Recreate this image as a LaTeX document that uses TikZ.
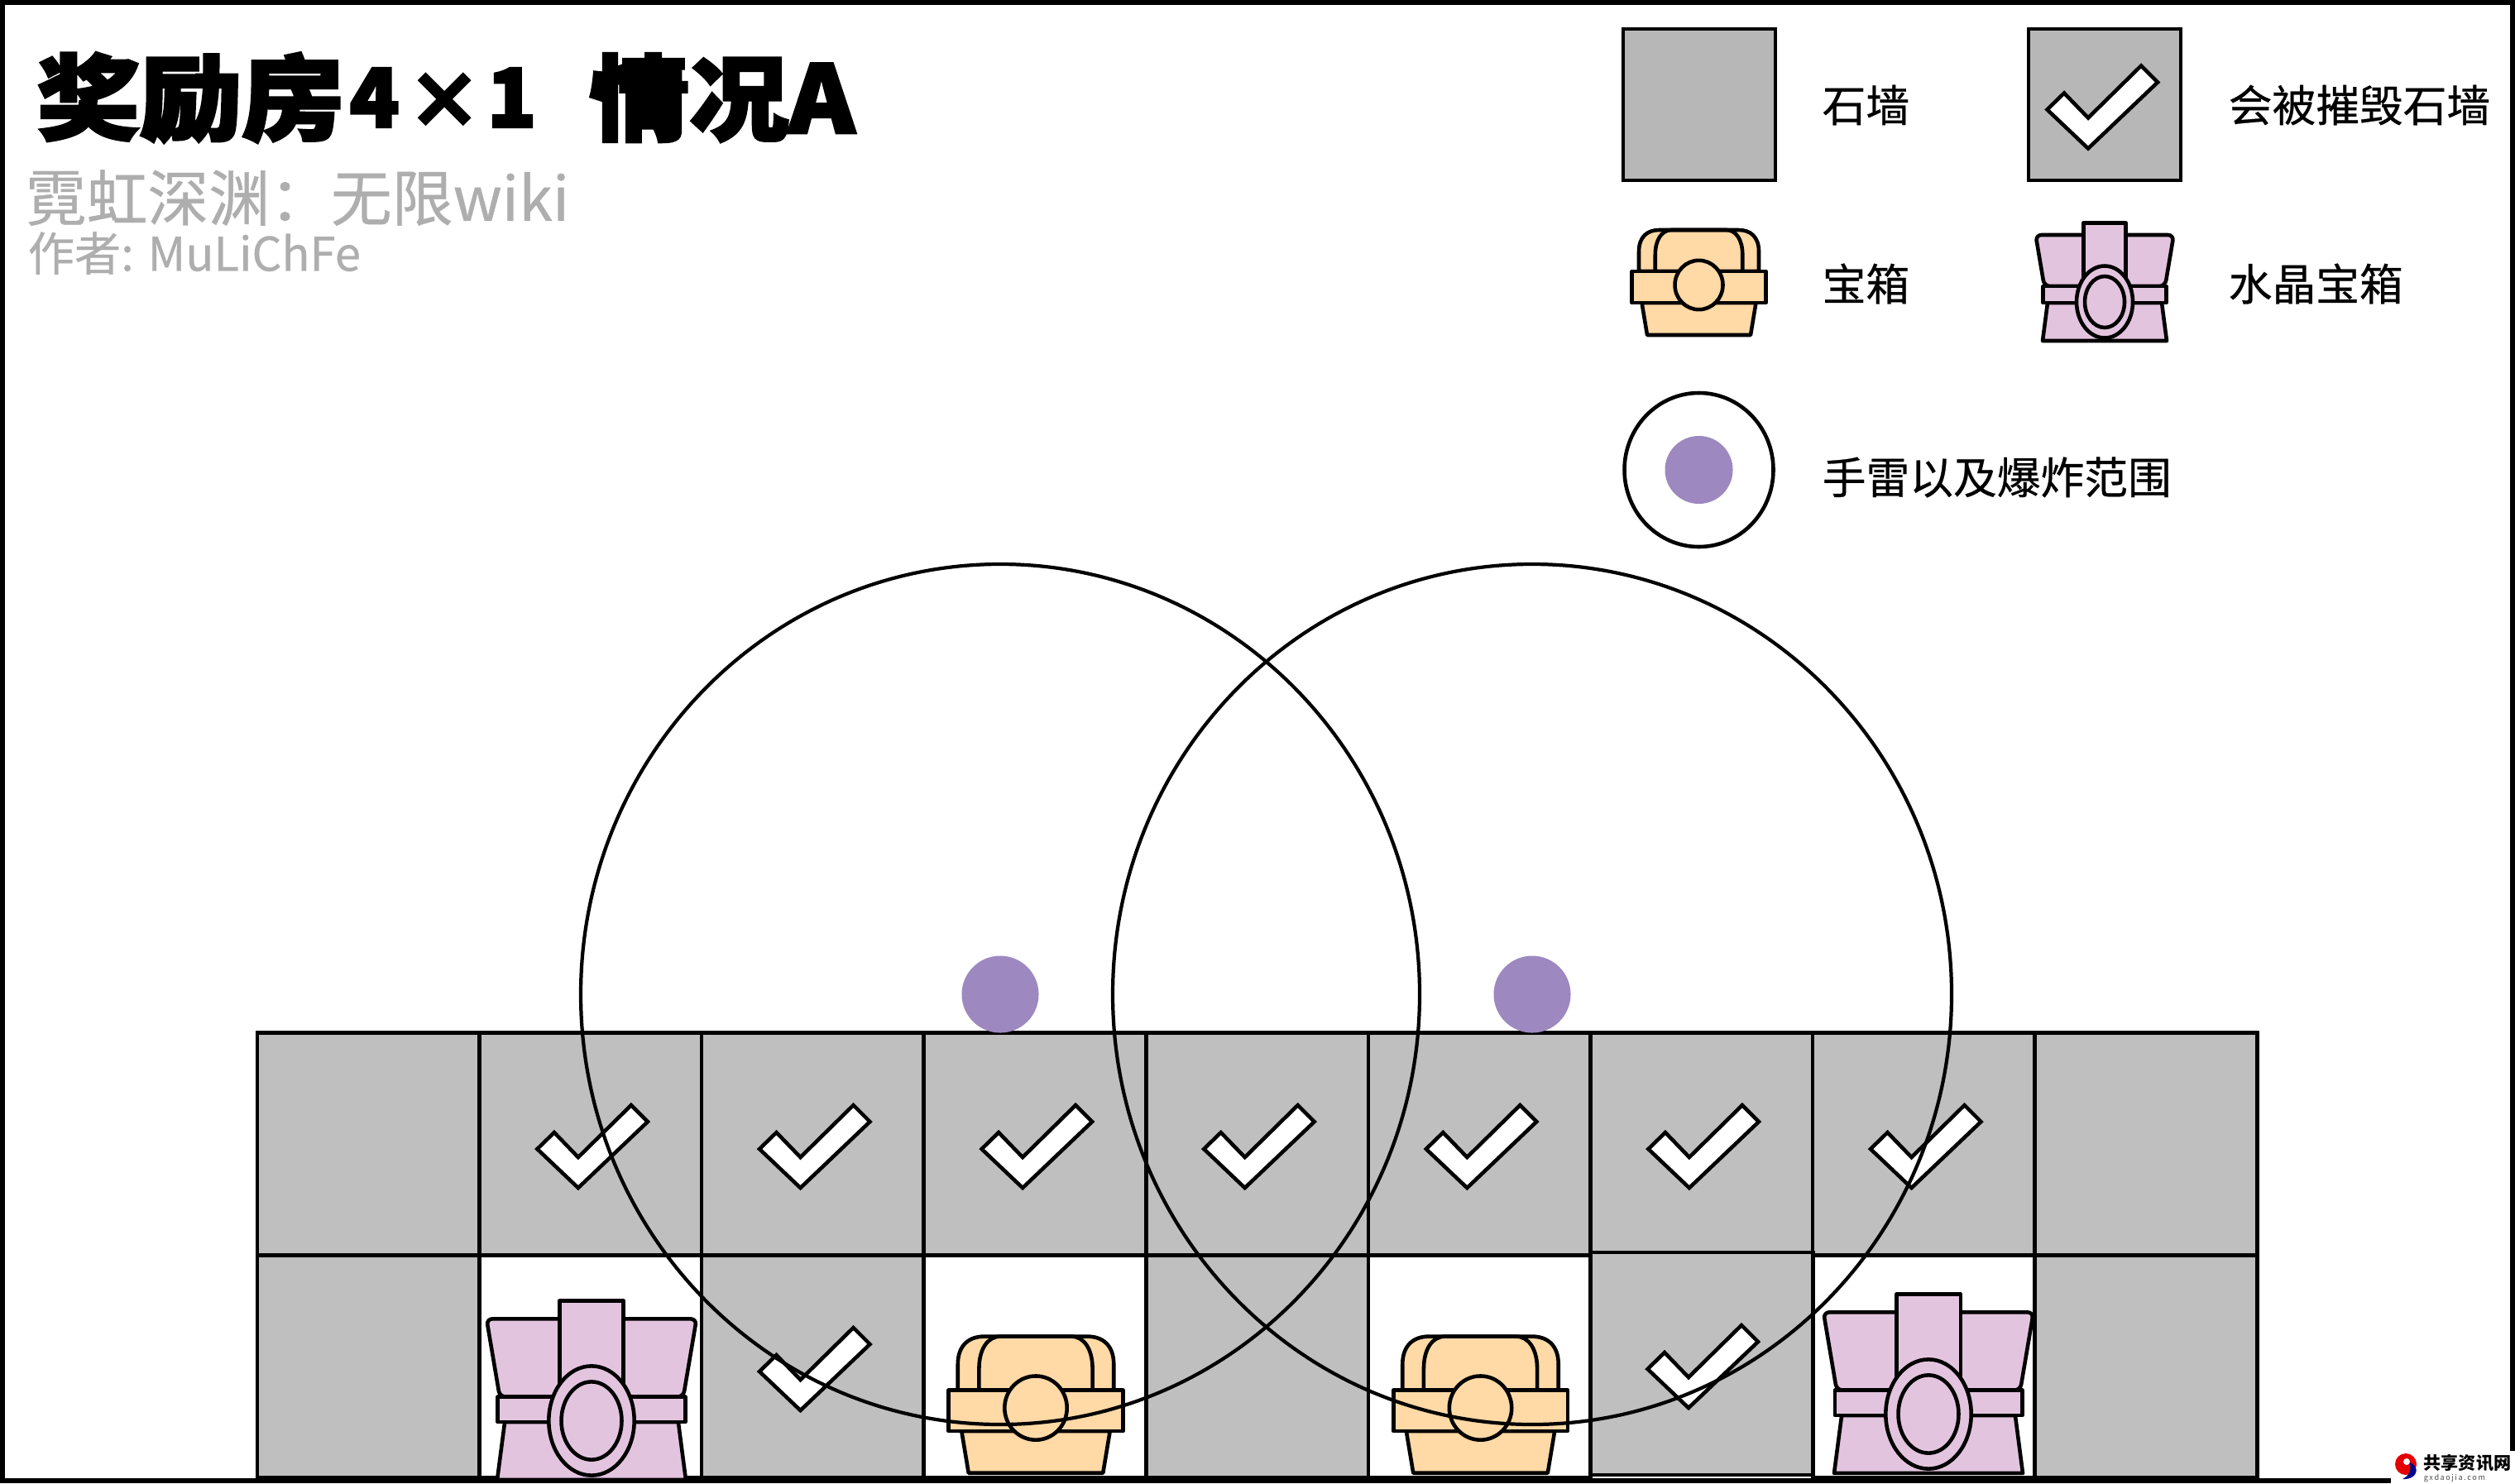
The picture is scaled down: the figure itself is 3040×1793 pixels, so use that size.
\documentclass[tikz,border=0pt]{standalone}
\usepackage{fontspec}
\setmainfont{Noto Sans CJK SC}
\newfontfamily\titlefont[BoldFeatures={FakeBold=3}]{Noto Sans CJK SC}
\newfontfamily\labelfont[FakeBold=0.5]{Noto Sans CJK SC}
\usepackage{xcolor}
\definecolor{wallgray}{HTML}{BFBFBF}
\definecolor{keygray}{HTML}{B7B7B7}
\definecolor{chestfill}{HTML}{FFD9A6}
\definecolor{crystalfill}{HTML}{E3C4DE}
\definecolor{grenade}{HTML}{9D88BF}
\definecolor{subgray}{HTML}{AEAEAE}
\usetikzlibrary{calc,positioning}
\def \cell {2.686cm}
\tikzset{
    wall/.style={
    rectangle,draw=black,fill=wallgray,line width=1.3pt,minimum width=\cell,minimum height=2.69cm,inner sep=0pt
    },
    hole/.style={
    wall,fill=white
    },
    keybox/.style={
    rectangle,draw=black,fill=keygray,line width=1.3pt,minimum width=1.84cm,minimum height=1.83cm,inner sep=0pt
    },
    bomb/.style={
    circle,fill=grenade,minimum size=0.93cm,inner sep=0pt
    },
    legend/.style={
    anchor=west,inner sep=0pt,font=\labelfont\fontsize{15}{15}\selectfont
    },
    heading/.style={
    anchor=west,inner sep=0pt,font=\titlefont\bfseries\fontsize{32}{32}\selectfont
    },
    outline/.style={draw=black,line width=1.3pt,line join=round},
    wallcheck/.pic={
      \draw[draw=black,fill=white,line width=1.3pt,line join=miter]
        (49,-47) -- (69,-27) -- (-15,53) -- (-64.5,6) -- (-44,-14) -- (-15,16) -- cycle;
    },
    chest/.pic={
      % origin is the lower edge of the band
      \draw[outline,fill=chestfill] (-69,0) -- (-62.5,39) -- (62.5,39) -- (69,0) -- cycle;
      \draw[outline,fill=chestfill] (-72.5,-38) -- (-72.5,-62) .. controls (-72.5,-80) and (-62,-88) .. (-48,-88)
        -- (48,-88) .. controls (62,-88) and (72.5,-80) .. (72.5,-62) -- (72.5,-38) -- cycle;
      \draw[outline] (-52.75,-38) -- (-52.75,-58) .. controls (-52.75,-76) and (-45,-88) .. (-33,-88)
        -- (33,-88) .. controls (45,-88) and (52.75,-76) .. (52.75,-58) -- (52.75,-38);
      \draw[outline,fill=chestfill] (-81,-38) rectangle (81,0);
      \draw[outline,fill=chestfill] (0,-21.5) ellipse [x radius=29,y radius=29.7];
    },
    crystal/.pic={
      % origin is the lower edge of the band
      \draw[outline,fill=crystalfill] (-69,0) -- (-75,46) -- (75,46) -- (69,0) -- cycle;
      \draw[outline,fill=crystalfill,rounded corners=2pt] (-83.5,-82) -- (-73,-20) -- (73,-20) -- (83.5,-82) -- cycle;
      \draw[outline,fill=crystalfill] (-25.5,-20) -- (-25.5,-96.4) -- (25.5,-96.4) -- (25.5,-20) -- cycle;
      \draw[outline,fill=crystalfill] (-74.5,-20) rectangle (74.5,0);
      \draw[outline,fill=crystalfill] (0,-1) ellipse [x radius=34,y radius=43.5];
      \draw[outline,fill=crystalfill] (0,-1) ellipse [x radius=24,y radius=31];
    },
}

\begin{document}
\begin{tikzpicture}[x=0.01cm,y=-0.01cm]
\useasboundingbox (0,0) rectangle (3040,1793);
\draw[line width=1.7pt] (3,3) rectangle (3037,1789.5);

% wall, two rows of nine
\foreach \col in {0,...,8}{
  \node[wall] (top\col) at ({445.3+268.6*\col},1383) {};
}
\foreach \col/\kind in {0/wall,1/hole,2/wall,3/hole,4/wall,5/hole,7/hole,8/wall}{
  \node[\kind] (low\col) at ({445.3+268.6*\col},1652) {};
}
\node[wall] (low6) at ({445.3+268.6*6},1648.5) {};

\foreach \col in {1,...,7}{
  \pic at ({445.3+268.6*\col},1383) {wallcheck};
}
\pic at (982.5,1652) {wallcheck};
\pic at (2056,1649) {wallcheck};

\pic[scale=1.52] at (715,1719) {crystal};
\pic[scale=1.52] at (2331,1711) {crystal};
\pic[scale=1.3] at (1252,1730) {chest};
\pic[scale=1.3] at (1789.5,1730) {chest};

% grenades and their range
\node[bomb] (bombA) at (1209,1202) {};
\node[bomb] (bombB) at (1852,1202) {};
\draw[line width=1.2pt] (bombA) ellipse [x radius=507,y radius=520];
\draw[line width=1.2pt] (bombB) ellipse [x radius=507,y radius=520];

% title block
\node[heading] (title) at (44,118) {\scalebox{1.1}[1]{奖励房}};
\node[heading,font=\titlefont\bfseries\fontsize{28}{28}\selectfont] (num) at (422,118) {4};
\node[heading,anchor=center,font=\titlefont\bfseries\fontsize{26}{26}\selectfont] (times) at (537,122) {×};
\node[heading,font=\titlefont\bfseries\fontsize{28}{28}\selectfont] (one) at (588,118) {1};
\node[heading] (case) at (712,118) {\scalebox{1.07}[1]{情况A}};
\node[anchor=west,inner sep=0pt,text=subgray,font=\labelfont\fontsize{21}{21}\selectfont] (sub) at (30,239) {霓虹深渊：无限wiki};
\node[anchor=west,inner sep=0pt,text=subgray,font=\labelfont\fontsize{16}{16}\selectfont] (by) at (33,306) {作者: MuLiChFe};

% legend
\node[keybox] (keyStone) at (2054,126.5) {};
\node[legend] (txtStone) at (2202,127) {石墙};
\node[keybox] (keyBreak) at (2544,126.5) {};
\pic at (2539,126.5) {wallcheck};
\node[legend] (txtBreak) at (2693,127) {会被摧毁石墙};
\pic at (2053.5,366) {chest};
\node[legend] (txtChest) at (2202,343) {宝箱};
\pic at (2544,366) {crystal};
\node[legend] (txtCrystal) at (2693,343) {水晶宝箱};
\node[bomb,minimum size=0.82cm] (keyBomb) at (2053.5,568) {};
\draw[line width=1.3pt] (keyBomb) ellipse [x radius=90,y radius=93];
\node[legend] (txtBomb) at (2202,577) {手雷以及爆炸范围};

% site mark
\fill[white] (2890,1754) rectangle (3040,1793);
\fill[red!90!black] (2908,1770) ellipse [x radius=13,y radius=13];
\fill[blue!55!black] (2912,1768) .. controls (2926,1772) and (2923,1789) .. (2904,1788)
  .. controls (2912,1784) and (2916,1776) .. cycle;
\fill[white] (2909,1767) ellipse [x radius=4,y radius=4];
\node[anchor=west,inner sep=0pt,font=\bfseries\fontsize{6}{6}\selectfont] (mark) at (2929,1769) {共享资讯网};
\node[anchor=west,inner sep=0pt,text=black!70,font=\fontsize{2.6}{2.6}\selectfont] (markUrl) at (2929,1787) {g\,x\,d\,a\,o\,j\,i\,a\,.\,c\,o\,m};
\end{tikzpicture}
\end{document}
